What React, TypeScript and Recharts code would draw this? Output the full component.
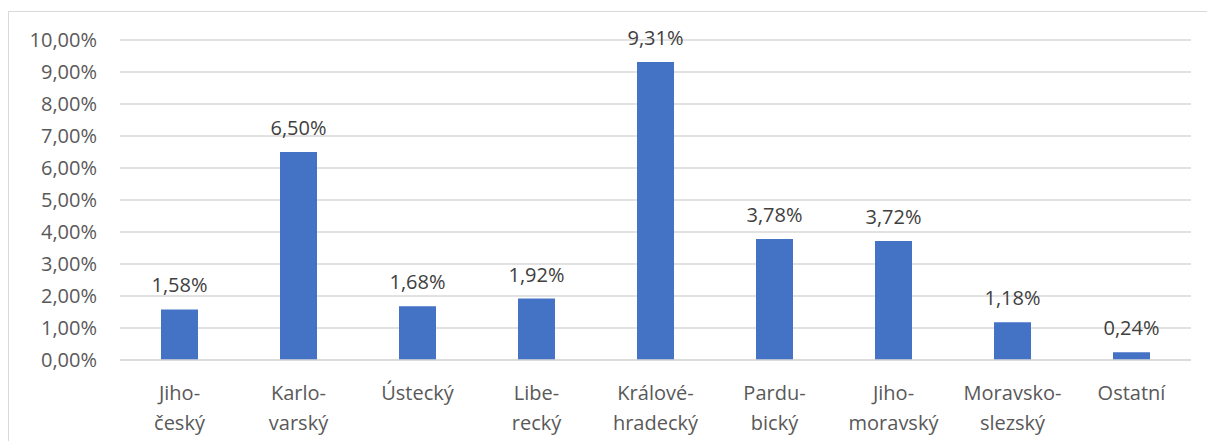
import { useEffect } from "react";
import { BarChart, Bar, XAxis, YAxis, CartesianGrid, LabelList } from "recharts";

const regions = [
  "Jiho-|český",
  "Karlo-|varský",
  "Ústecký",
  "Libe-|recký",
  "Králové-|hradecký",
  "Pardu-|bický",
  "Jiho-|moravský",
  "Moravsko-|slezský",
  "Ostatní",
];
const shares = [1.58, 6.5, 1.68, 1.92, 9.31, 3.78, 3.72, 1.18, 0.24];
const yTicks = [0, 1, 2, 3, 4, 5, 6, 7, 8, 9, 10];

const data = regions.map((r, i) => ({ region: r, share: shares[i] }));

const FONT = "'Open Sans', sans-serif";

function pct(v: number): string {
  return v.toFixed(2).replace(".", ",") + "%";
}

function RegionTick(props: any) {
  const { x, y, payload } = props;
  const lines = String(payload.value).split("|");
  return (
    <text x={x} y={y} textAnchor="middle" fill="#595959" fontSize={20} fontFamily={FONT}>
      {lines.map((l, i) => (
        <tspan key={i} x={x} dy={i === 0 ? 32 : 30}>
          {l}
        </tspan>
      ))}
    </text>
  );
}

export default function App() {
  // keep the page from showing a scrollbar
  useEffect(() => {
    document.documentElement.style.overflow = "hidden";
    document.body.style.overflow = "hidden";
  }, []);

  return (
    <div
      style={{
        position: "fixed",
        left: 8,
        top: 11,
        right: 0,
        bottom: 0,
        borderTop: "1px solid #d9d9d9",
        borderLeft: "1px solid #d9d9d9",
        background: "#fff",
        overflow: "hidden",
      }}
    >
      <BarChart
        width={1198}
        height={430}
        data={data}
        margin={{ top: 28, right: 16, left: 0, bottom: 0 }}
        barCategoryGap={0}
      >
        <CartesianGrid vertical={false} stroke="#d9d9d9" strokeWidth={1.3} />
        <XAxis
          dataKey="region"
          tick={<RegionTick />}
          tickLine={false}
          axisLine={{ stroke: "#d9d9d9", strokeWidth: 1.3 }}
          height={82}
          interval={0}
        />
        <YAxis
          domain={[0, 10]}
          ticks={yTicks}
          tickFormatter={pct}
          tick={{ fill: "#595959", fontSize: 20, fontFamily: FONT }}
          axisLine={false}
          tickLine={false}
          tickMargin={17}
          width={111}
        />
        <Bar dataKey="share" fill="#4472C4" barSize={37} isAnimationActive={false}>
          <LabelList
            dataKey="share"
            position="top"
            offset={17}
            formatter={(v: any) => pct(Number(v))}
            fill="#404040"
            fontSize={20}
            fontFamily={FONT}
          />
        </Bar>
      </BarChart>
      <div
        style={{
          position: "absolute",
          top: 0,
          right: 0,
          width: 12,
          bottom: 0,
          background: "#fff",
          zIndex: 10,
        }}
      />
    </div>
  );
}
